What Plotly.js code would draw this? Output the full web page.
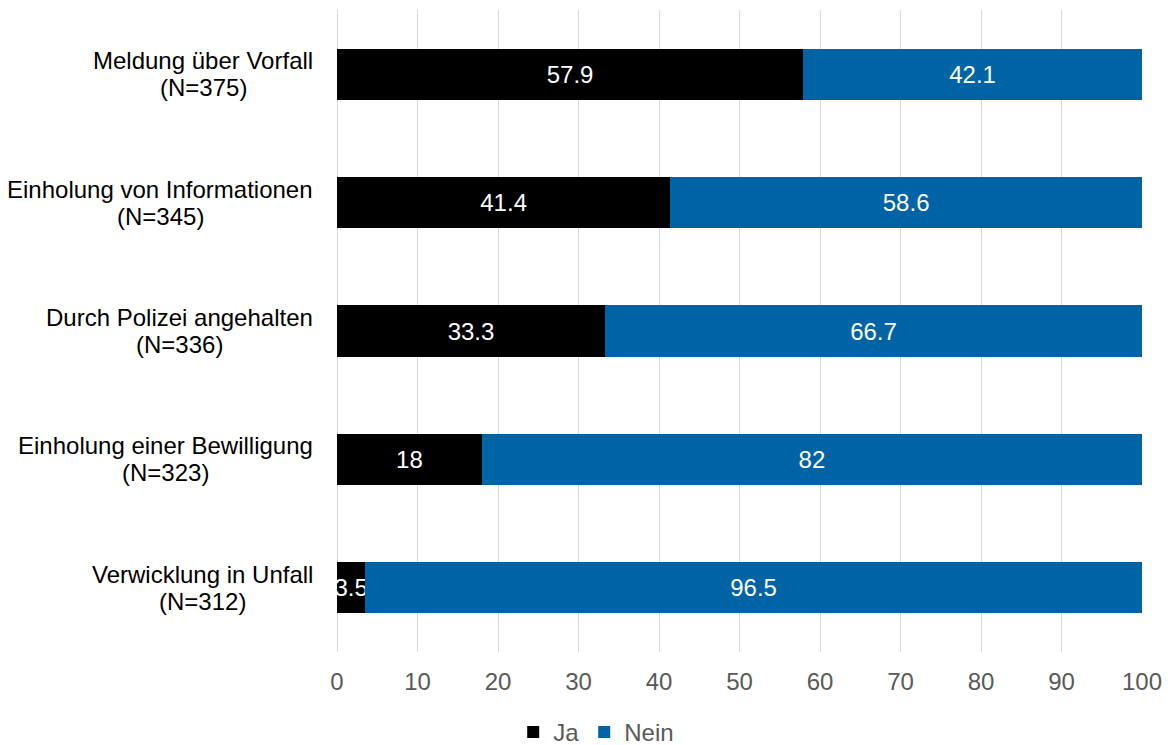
<!DOCTYPE html>
<html>
<head>
<meta charset="utf-8">
<script src="https://cdn.plot.ly/plotly-3.0.1.min.js"></script>
<style>html,body{margin:0;padding:0;background:#fff;}#chart{width:1168px;height:745px;}</style>
</head>
<body>
<div id="chart"></div>
<script>
const categories = ["Meldung über Vorfall", "Einholung von Informationen", "Durch Polizei angehalten", "Einholung einer Bewilligung", "Verwicklung in Unfall"];
const sampleSizes = ["(N=375)", "(N=345)", "(N=336)", "(N=323)", "(N=312)"];
const jaValues = [57.9, 41.4, 33.3, 18, 3.5];
const neinValues = [42.1, 58.6, 66.7, 82, 96.5];
const seriesNames = ["Ja", "Nein"];
const tickValues = [0, 10, 20, 30, 40, 50, 60, 70, 80, 90, 100];

const FONT = "'Liberation Sans', Arial, sans-serif";
const FS = 24;

function barTrace(name, values, color) {
  return {
    type: "bar",
    orientation: "h",
    name: name,
    y: categories,
    x: values,
    text: values.map(v => String(v)),
    textposition: "inside",
    insidetextanchor: "middle",
    textangle: 0,
    constraintext: "none",
    cliponaxis: true,
    textfont: {family: FONT, size: FS, color: "#ffffff"},
    marker: {color: color},
    hoverinfo: "x+name"
  };
}

const data = [
  barTrace(seriesNames[0], jaValues, "#000000"),
  barTrace(seriesNames[1], neinValues, "#0063a6")
];

const annotations = [];
categories.forEach((c, i) => {
  [[c, 13.5], [sampleSizes[i], -13.5]].forEach(([txt, shift]) => {
    annotations.push({
      xref: "paper", yref: "y",
      x: 0, y: c,
      xanchor: "right", yanchor: "middle",
      xshift: -22,
      yshift: shift,
      align: "center",
      showarrow: false,
      text: txt,
      font: {family: FONT, size: FS, color: "#000000"}
    });
  });
});

const layout = {
  width: 1168, height: 745,
  margin: {l: 337, r: 26, t: 10, b: 93, pad: 0},
  paper_bgcolor: "#ffffff",
  plot_bgcolor: "#ffffff",
  barmode: "stack",
  bargap: 0.6,
  font: {family: FONT, size: FS, color: "#595959"},
  xaxis: {
    range: [0, 100],
    tickvals: tickValues,
    ticktext: tickValues.map(String),
    showgrid: true,
    gridcolor: "#d9d9d9",
    gridwidth: 1,
    zeroline: true,
    zerolinecolor: "#d9d9d9",
    zerolinewidth: 1,
    showline: false,
    ticks: "",
    ticklabelstandoff: 13,
    tickfont: {family: FONT, size: FS, color: "#595959"},
    fixedrange: true
  },
  yaxis: {
    type: "category",
    categoryorder: "array",
    categoryarray: categories,
    autorange: "reversed",
    showticklabels: false,
    showgrid: false,
    zeroline: false,
    showline: false,
    ticks: "",
    fixedrange: true
  },
  showlegend: true,
  legend: {
    orientation: "h",
    xref: "paper",
    yref: "container",
    x: 0.322, xanchor: "center",
    y: 0.017, yanchor: "middle",
    font: {family: FONT, size: FS, color: "#595959"},
    itemwidth: 30,
    traceorder: "normal",
    bgcolor: "rgba(0,0,0,0)"
  },
  annotations: annotations
};

// centre each sample-size line beneath its category line
function centreSecondLines(gd) {
  const ctx = document.createElement("canvas").getContext("2d");
  ctx.font = FS + "px 'Liberation Sans', Arial, sans-serif";
  const anns = layout.annotations.map(a => Object.assign({}, a));
  for (let i = 0; i < categories.length; i++) {
    const w1 = ctx.measureText(categories[i]).width;
    const w2 = ctx.measureText(sampleSizes[i]).width;
    anns[2 * i + 1].xshift = -22 - (w1 - w2) / 2;
  }
  return Plotly.relayout(gd, {annotations: anns});
}

Plotly.newPlot("chart", data, layout, {displayModeBar: false, staticPlot: true}).then(centreSecondLines);
</script>
</body>
</html>
